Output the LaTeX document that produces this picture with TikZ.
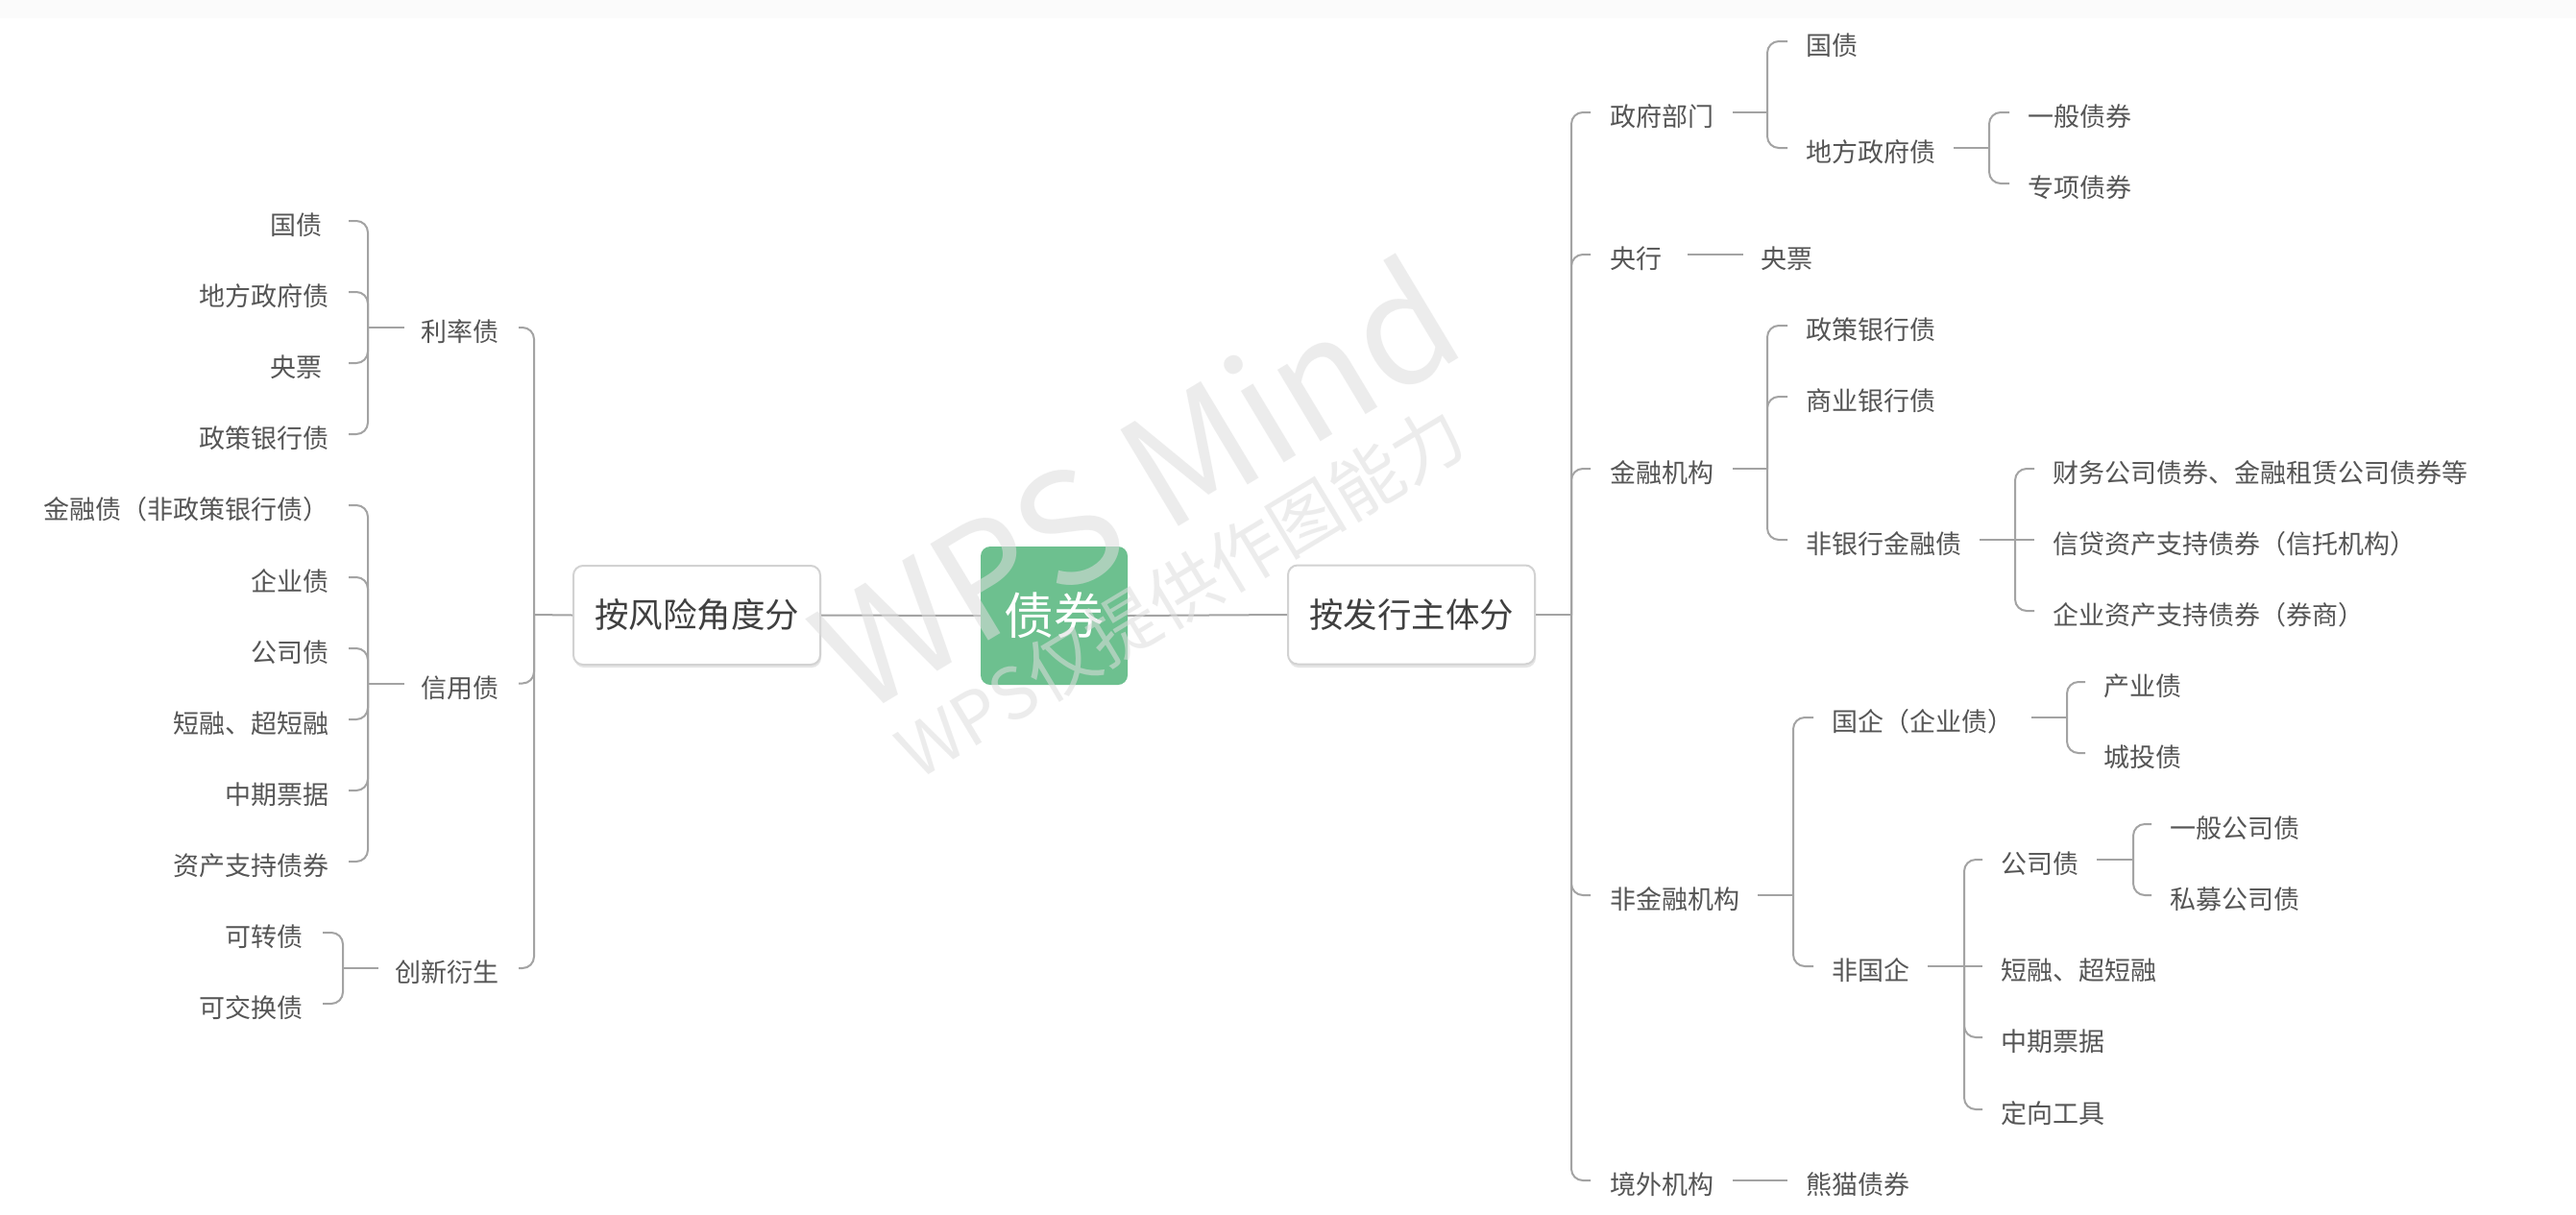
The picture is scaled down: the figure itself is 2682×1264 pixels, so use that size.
\documentclass[tikz,border=0pt]{standalone}
\usepackage{fontspec}
\setmainfont{Noto Sans CJK SC}
\usetikzlibrary{calc}
\definecolor{linegray}{HTML}{A3A3A3}
\definecolor{leaftext}{HTML}{555555}
\definecolor{boxtext}{HTML}{3F3F3F}
\definecolor{rootgreen}{HTML}{6DC08F}
\definecolor{boxborder}{HTML}{D2D2D2}
\tikzset{
  conn/.style={draw=linegray, line width=2pt, rounded corners=12pt},
  leafbase/.style={inner sep=0pt, font=\fontsize{27}{30}\selectfont, text=leaftext, text height=29.7pt, text depth=0pt},
  lleaf/.style={leafbase, anchor=east},
  rleaf/.style={leafbase, anchor=west},
  catbox/.style={draw=boxborder, line width=2pt, fill=white, rounded corners=10pt, inner sep=0pt,
     minimum width=257pt, minimum height=103pt, font=\fontsize{35.5}{40}\selectfont, text=boxtext},
  rootbox/.style={fill=rootgreen, rounded corners=10pt, inner sep=0pt,
     minimum width=153pt, minimum height=144pt, font=\fontsize{52}{56}\selectfont, text=white},
  wmtext/.style={inner sep=0pt, anchor=base west, rotate=31, text=black!13, text opacity=0.55}
}
\begin{document}
\begin{tikzpicture}[x=1pt,y=-1pt]
\useasboundingbox (0,0) rectangle (2682,1264);
\fill[white] (0,0) rectangle (2682,1264);
\fill[black!1.5] (0,0) rectangle (2682,19);

% ---------- center ----------
\fill[black!10, rounded corners=10pt] (598,592) rectangle (855,695);
\fill[black!10, rounded corners=10pt] (1342,591) rectangle (1599,695);
\node[catbox] (fx) at (725.5,640.5) {按风险角度分};
\node[rootbox] (root) at (1097.5,641) {债券};
\node[catbox] (fr) at (1469.5,640) {按发行主体分};

% ---------- left side ----------
\node[lleaf] (l1) at (343,230) {国债\hspace*{7pt}};
\node[lleaf] (l2) at (343,304) {地方政府债};
\node[lleaf] (l3) at (343,378) {央票\hspace*{7pt}};
\node[lleaf] (l4) at (343,452) {政策银行债};
\node[lleaf] (l5) at (343,526) {金融债（非政策银行债）};
\node[lleaf] (l6) at (343,601) {企业债};
\node[lleaf] (l7) at (343,675) {公司债};
\node[lleaf] (l8) at (343,749) {短融、超短融};
\node[lleaf] (l9) at (343,823) {中期票据};
\node[lleaf] (l10) at (343,897) {资产支持债券};
\node[lleaf] (l11) at (316,971) {可转债};
\node[lleaf] (l12) at (316,1045) {可交换债};
\node[lleaf] (lp1) at (520,341) {利率债};
\node[lleaf] (lp2) at (520,711.5) {信用债};
\node[lleaf] (lp3) at (520,1008) {创新衍生};

\coordinate (LJ1) at (383,341);
\coordinate (LJ2) at (383,711.5);
\coordinate (LJ3) at (357,1008);
\coordinate (LJm) at (556,640);

\draw[conn] (fx.west) -- (LJm);
\draw[conn] (fx.east) -- (root.west);
\draw[conn] (root.east) -- (fr.west);
\foreach \c in {lp1,lp2,lp3}
  \draw[conn] (LJm) |- ($(LJm |- \c.east)+(-16,0)$);

\draw[conn] ([xshift=-18pt]lp1.west) -- (LJ1);
\foreach \c in {l1,l2,l3,l4}
  \draw[conn] (LJ1) |- ($(LJ1 |- \c.east)+(-20,0)$);
\draw[conn] ([xshift=-18pt]lp2.west) -- (LJ2);
\foreach \c in {l5,l6,l7,l8,l9,l10}
  \draw[conn] (LJ2) |- ($(LJ2 |- \c.east)+(-20,0)$);
\draw[conn] ([xshift=-18pt]lp3.west) -- (LJ3);
\foreach \c in {l11,l12}
  \draw[conn] (LJ3) |- ($(LJ3 |- \c.east)+(-21,0)$);

% ---------- right side ----------
\node[rleaf] (r1) at (1676,117) {政府部门};
\node[rleaf] (r2) at (1676,265) {央行};
\node[rleaf] (r3) at (1676,488) {金融机构};
\node[rleaf] (r4) at (1676,932) {非金融机构};
\node[rleaf] (r5) at (1676,1229) {境外机构};

\node[rleaf] (a1) at (1880,43) {国债};
\node[rleaf] (a2) at (1880,154) {地方政府债};
\node[rleaf] (a3) at (2111,117) {一般债券};
\node[rleaf] (a4) at (2111,191) {专项债券};
\node[rleaf] (b1) at (1833,265) {央票};
\node[rleaf] (c1) at (1880,339) {政策银行债};
\node[rleaf] (c2) at (1880,413) {商业银行债};
\node[rleaf] (c3) at (1880,562) {非银行金融债};
\node[rleaf] (c4) at (2137,488) {财务公司债券、金融租赁公司债券等};
\node[rleaf] (c5) at (2137,562) {信贷资产支持债券（信托机构）};
\node[rleaf] (c6) at (2137,636) {企业资产支持债券（券商）};
\node[rleaf] (d1) at (1907,747) {国企（企业债）};
\node[rleaf] (d2) at (2190,710) {产业债};
\node[rleaf] (d3) at (2190,784) {城投债};
\node[rleaf] (d4) at (1907,1006) {非国企};
\node[rleaf] (d5) at (2083,895) {公司债};
\node[rleaf] (d6) at (2259,858) {一般公司债};
\node[rleaf] (d7) at (2259,932) {私募公司债};
\node[rleaf] (d8) at (2083,1006) {短融、超短融};
\node[rleaf] (d9) at (2083,1080) {中期票据};
\node[rleaf] (d10) at (2083,1155) {定向工具};
\node[rleaf] (e1) at (1880,1229) {熊猫债券};

\coordinate (RJm) at (1636,640);
\coordinate (RJ1) at (1840,117);
\coordinate (RJ2) at (2071,154);
\coordinate (RJ3) at (1840,488);
\coordinate (RJ4) at (2098,562);
\coordinate (RJ5) at (1867,932);
\coordinate (RJ6) at (2152,747);
\coordinate (RJ7) at (2045,1006);
\coordinate (RJ8) at (2221,895);

\draw[conn] (fr.east) -- (RJm);
\foreach \c in {r1,r2,r3,r4,r5}
  \draw[conn] (RJm) |- ($(RJm |- \c.west)+(20,0)$);

\draw[conn] ([xshift=20pt]r1.east) -- (RJ1);
\foreach \c in {a1,a2}
  \draw[conn] (RJ1) |- ($(RJ1 |- \c.west)+(21,0)$);
\draw[conn] ([xshift=19pt]a2.east) -- (RJ2);
\foreach \c in {a3,a4}
  \draw[conn] (RJ2) |- ($(RJ2 |- \c.west)+(21,0)$);

\draw[conn] ([xshift=27pt]r2.east) -- ([xshift=-18pt]b1.west);

\draw[conn] ([xshift=20pt]r3.east) -- (RJ3);
\foreach \c in {c1,c2,c3}
  \draw[conn] (RJ3) |- ($(RJ3 |- \c.west)+(21,0)$);
\draw[conn] ([xshift=19pt]c3.east) -- (RJ4);
\foreach \c in {c4,c6}
  \draw[conn] (RJ4) |- ($(RJ4 |- \c.west)+(20,0)$);
\draw[conn] (RJ4) -- ([xshift=-19pt]c5.west);

\draw[conn] ([xshift=19pt]r4.east) -- (RJ5);
\foreach \c in {d1,d4}
  \draw[conn] (RJ5) |- ($(RJ5 |- \c.west)+(21,0)$);
\draw[conn] ([xshift=19pt]d1.east) -- (RJ6);
\foreach \c in {d2,d3}
  \draw[conn] (RJ6) |- ($(RJ6 |- \c.west)+(19,0)$);
\draw[conn] ([xshift=19pt]d4.east) -- (RJ7);
\foreach \c in {d5,d9,d10}
  \draw[conn] (RJ7) |- ($(RJ7 |- \c.west)+(19,0)$);
\draw[conn] (RJ7) -- ([xshift=-19pt]d8.west);
\draw[conn] ([xshift=19pt]d5.east) -- (RJ8);
\foreach \c in {d6,d7}
  \draw[conn] (RJ8) |- ($(RJ8 |- \c.west)+(19,0)$);

\draw[conn] ([xshift=20pt]r5.east) -- ([xshift=-19pt]e1.west);

% ---------- watermark ----------
\node[wmtext, font=\fontsize{160}{160}\selectfont] (wm1) at (895,748) {WPS Mind};
\node[wmtext, font=\fontsize{74}{74}\selectfont] (wm2) at (955,814) {WPS仅提供作图能力};
\end{tikzpicture}
\end{document}
